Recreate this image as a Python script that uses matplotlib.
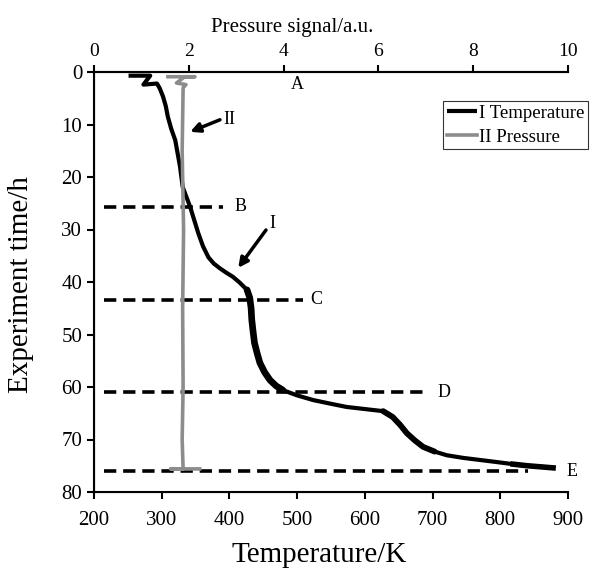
import matplotlib
matplotlib.use("Agg")
import matplotlib.pyplot as plt

plt.rcParams['font.family'] = ['Liberation Serif', 'DejaVu Serif']

# Temperature curve (I): temperature in K vs experiment time in h
temp_T = [251, 283, 273, 293, 297, 302, 306, 309, 314, 320, 327, 331, 342, 354, 361,
          369, 377, 386, 395, 405, 415, 426, 430, 432, 433, 435, 437, 441, 445, 452,
          460, 469, 479, 500, 524, 550, 573, 600, 627, 641, 652, 662, 674, 686,
          703, 721, 745, 770, 795, 819, 840, 859, 878]
temp_t = [0.7, 0.7, 2.4, 2.2, 3.1, 4.7, 6.5, 8.5, 10.8, 13, 18, 21.9, 25.7, 30.7, 33.2,
          35.3, 36.5, 37.4, 38.2, 39, 40.1, 41.5, 43, 45, 47.2, 49.5, 51.6, 53.6, 55.4, 57.2,
          58.7, 59.8, 60.6, 61.6, 62.5, 63.2, 63.8, 64.2, 64.6, 65.7, 67.2, 68.8, 70.2, 71.4,
          72.3, 73, 73.5, 73.9, 74.3, 74.7, 75.0, 75.2, 75.4]

# Pressure curve (II): pressure signal (a.u.) vs time
pres_P = [1.56, 2.13, 1.90, 1.74, 1.94, 1.88, 1.86, 1.89, 1.87, 1.88, 1.86, 1.88, 1.62, 2.23]
pres_t = [0.9, 0.9, 1.0, 2.1, 2.4, 3, 15, 30, 45, 60, 70, 75.6, 75.6, 75.6]

# Stage marker lines (dashed)
stage_names = ['B', 'C', 'D', 'E']
stage_t = [25.8, 43.5, 61.0, 76.0]
stage_T_end = [390, 509, 693, 841]
stage_T_start = 215

# Stage labels
label_names = ['A', 'B', 'C', 'D', 'E']
label_T = [501, 416, 528, 717, 906]
label_t = [2.3, 25.7, 43.4, 61.0, 76.0]

fig = plt.figure(figsize=(5.92, 5.69), dpi=100)
ax = fig.add_axes([94/592, 1-492/569, 474/592, 420/569])

gray = '#8c8c8c'
ax.plot(temp_T, temp_t, color='black', lw=3.0, solid_capstyle='butt',
        solid_joinstyle='round', zorder=4, label='I Temperature')
# thicker, noisier middle portions of the recorded trace
ax.plot(temp_T[21:33], temp_t[21:33], color='black', lw=4.8, zorder=4,
        solid_joinstyle='round', solid_capstyle='round')
ax.plot(temp_T[38:45], temp_t[38:45], color='black', lw=4.2, zorder=4,
        solid_joinstyle='round', solid_capstyle='round')
ax.plot(temp_T[-4:], temp_t[-4:], color='black', lw=4.0, zorder=4,
        solid_joinstyle='round')

for t, te in zip(stage_t, stage_T_end):
    ax.plot([stage_T_start, te], [t, t], color='black', lw=2.6,
            linestyle=(0, (3.4, 1.9)), zorder=2)

for n, T, t in zip(label_names, label_T, label_t):
    ax.text(T, t, n, fontsize=13, ha='center', va='center', clip_on=False)

ax.annotate('', xy=(413, 37.3), xytext=(454, 30.1),
            arrowprops=dict(arrowstyle='-|>', lw=2.5, color='black', mutation_scale=14,
                            shrinkA=0, shrinkB=0))
ax.text(463, 28.8, 'I', fontsize=13, ha='center', va='center')
ax.annotate('', xy=(342, 11.4), xytext=(386, 9.1),
            arrowprops=dict(arrowstyle='-|>', lw=2.5, color='black', mutation_scale=14,
                            shrinkA=0, shrinkB=0))
ax.text(400, 9.1, 'II', fontsize=13, ha='center', va='center')

ax.set_xlim(200, 900)
ax.set_ylim(80, 0)
ax.set_xticks(range(200, 901, 100))
ax.set_yticks(range(0, 81, 10))
ax.set_xlabel('Temperature/K', fontsize=21)
ax.xaxis.set_label_coords((319 - 94) / 474, (492 - 542) / 420)
ax.set_ylabel('Experiment time/h', fontsize=21)
ax.yaxis.set_label_coords((34 - 94) / 474, (492 - 285) / 420)
ax.spines['right'].set_visible(False)
for s in ['left', 'bottom', 'top']:
    ax.spines[s].set_linewidth(1.5)
ax.tick_params(width=1.5, length=5, direction='out')
ax.tick_params(axis='x', labelsize=15, pad=9)
ax.tick_params(axis='y', labelsize=15)

ax2 = ax.twiny()
ax2.plot(pres_P, pres_t, color=gray, lw=2.6, zorder=3, label='II Pressure')
ax2.set_xlim(0, 10)
ax2.set_xticks(range(0, 11, 2))
ax2.set_xlabel('Pressure signal/a.u.', fontsize=15)
ax2.xaxis.set_label_coords((292 - 94) / 474, (492 - 32) / 420)
ax2.spines['right'].set_visible(False)
ax2.spines['top'].set_linewidth(1.5)
ax2.tick_params(labelsize=14, width=1.5, length=5, direction='out')
ax2.set_ylim(80, 0)

h1, l1 = ax.get_legend_handles_labels()
h2, l2 = ax2.get_legend_handles_labels()
leg = ax2.legend(h1 + h2, l1 + l2, loc='upper left', bbox_to_anchor=(443/592, 1-101/569),
                 bbox_transform=fig.transFigure, fontsize=13.5, frameon=True, fancybox=False,
                 edgecolor='black', handlelength=1.6, handletextpad=0.1, borderpad=0.2,
                 labelspacing=0.35, borderaxespad=0)
leg.get_frame().set_linewidth(0.8)

fig.savefig('out.png', dpi=100)
